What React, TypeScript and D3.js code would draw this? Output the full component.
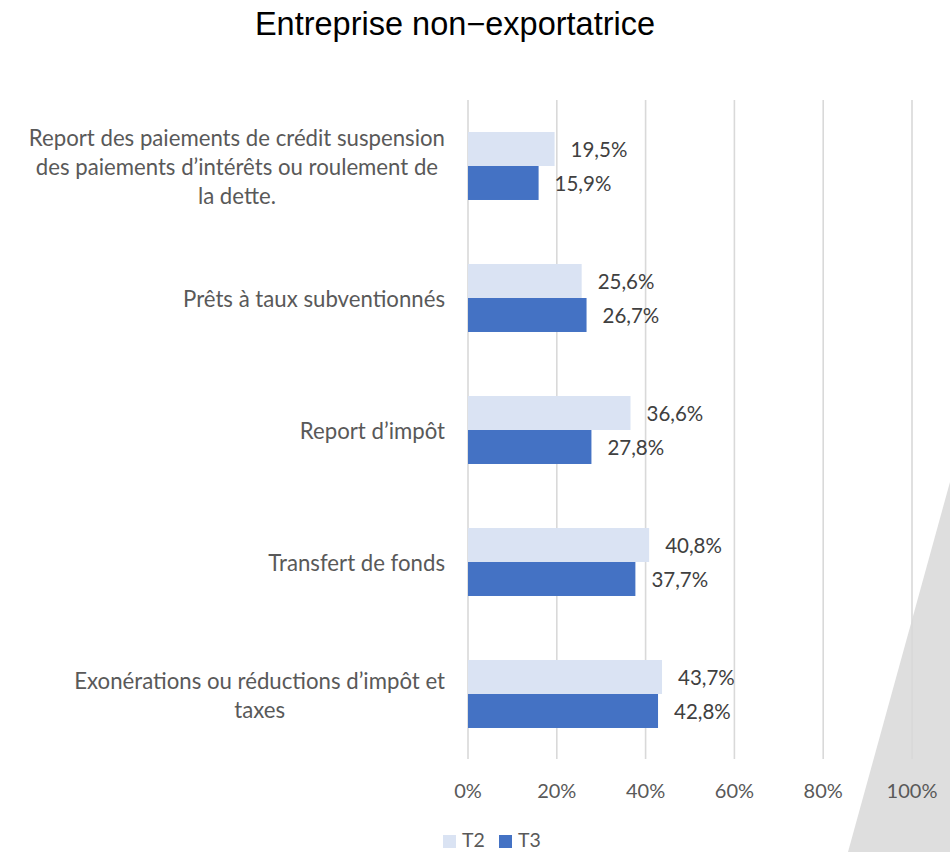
import React, { useMemo } from "react";
import * as d3 from "d3";

const title = "Entreprise non\u2212exportatrice";
const categories: string[][] = [
  ["Report des paiements de crédit suspension", "des paiements d’intérêts ou roulement de", "la dette."],
  ["Prêts à taux subventionnés"],
  ["Report d’impôt"],
  ["Transfert de fonds"],
  ["Exonérations ou réductions d’impôt et", "taxes"],
];
const seriesNames = ["T2", "T3"];
const t2Values = [19.5, 25.6, 36.6, 40.8, 43.7];
const t3Values = [15.9, 26.7, 27.8, 37.7, 42.8];
const ticks = [0, 20, 40, 60, 80, 100];
const colors = ["#dae3f3", "#4472c4"];

const W = 950;
const H = 852;
const catFontSize = 22.2;
const catFont = `${catFontSize}px Lato`;

function measure(text: string, font: string): number {
  const c = document.createElement("canvas");
  const ctx = c.getContext("2d");
  if (!ctx) return text.length * 9;
  ctx.font = font;
  return ctx.measureText(text).width;
}

export default function App() {
  const x = d3.scaleLinear().domain([0, 100]).range([468, 912]);
  const y = d3
    .scaleBand<number>()
    .domain(d3.range(categories.length))
    .range([100, 760])
    .paddingInner(0.485)
    .paddingOuter(0.2425);
  const sub = d3.scaleBand<number>().domain([0, 1]).range([0, y.bandwidth()]);
  const series = [t2Values, t3Values];
  const fmt = (v: number) => v.toFixed(1).replace(".", ",") + "%";

  const catCenters = useMemo(
    () =>
      categories.map((lines) => {
        const m = Math.max(...lines.map((l) => measure(l, catFont)));
        return 445 - m / 2;
      }),
    []
  );

  const lineH = 29;

  return (
    <div style={{ position: "absolute", left: 0, top: 0 }}>
      <svg width={W} height={H} style={{ display: "block", background: "#fff" }}>
        <polygon points={`950,482 848,852 950,852`} fill="#dedede" />
        <text
          x={455}
          y={35}
          textAnchor="middle"
          fontFamily="Liberation Sans, Arial, sans-serif"
          fontSize={32.5}
          fill="#000"
        >
          {title}
        </text>
        {ticks.map((t) => (
          <g key={t}>
            <line x1={x(t)} x2={x(t)} y1={100} y2={759} stroke="#d9d9d9" strokeWidth={1.6} />
            <text
              x={x(t)}
              y={798}
              textAnchor="middle"
              fontFamily="Lato, sans-serif"
              fontSize={20}
              fill="#595959"
            >
              {t + "%"}
            </text>
          </g>
        ))}
        {categories.map((lines, i) => {
          const yc = (y(i) as number) + y.bandwidth() / 2;
          const y0 = yc - ((lines.length - 1) * lineH) / 2;
          return (
            <text
              key={i}
              textAnchor="middle"
              fontFamily="Lato, sans-serif"
              fontSize={catFontSize}
              fill="#595959"
              dominantBaseline="central"
            >
              {lines.map((l, j) => (
                <tspan key={j} x={catCenters[i]} y={y0 + j * lineH}>
                  {l}
                </tspan>
              ))}
            </text>
          );
        })}
        {series.map((vals, s) =>
          vals.map((v, i) => {
            const by = (y(i) as number) + (sub(s) as number);
            return (
              <g key={`${s}-${i}`}>
                <rect
                  x={x(0)}
                  y={by}
                  width={x(v) - x(0)}
                  height={sub.bandwidth()}
                  fill={colors[s]}
                />
                <text
                  x={x(v) + 16}
                  y={by + sub.bandwidth() / 2}
                  dominantBaseline="central"
                  fontFamily="Lato, sans-serif"
                  fontSize={20.5}
                  fill="#404040"
                >
                  {fmt(v)}
                </text>
              </g>
            );
          })
        )}
        {seriesNames.map((n, s) => (
          <g key={n} transform={`translate(${443 + s * 56},834)`}>
            <rect x={0} y={1} width={13} height={13} fill={colors[s]} />
            <text
              x={19}
              y={13}
              fontFamily="Lato, sans-serif"
              fontSize={19.5}
              fill="#595959"
            >
              {n}
            </text>
          </g>
        ))}
      </svg>
    </div>
  );
}
